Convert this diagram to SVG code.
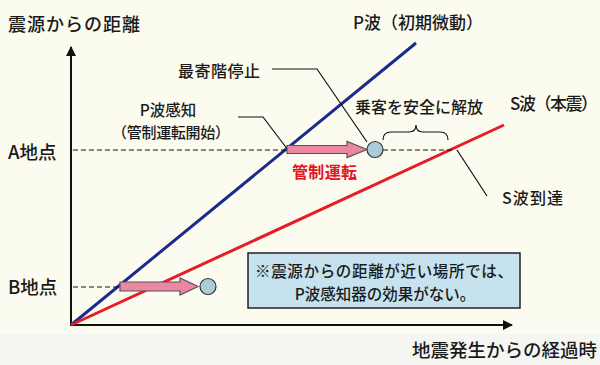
<svg xmlns="http://www.w3.org/2000/svg" width="600" height="365" viewBox="0 0 600 365">
<defs>
<style>
.t{font-family:"Noto Sans CJK JP","Noto Sans",sans-serif;fill:#1a1a1a;font-weight:500}
.ax{stroke:#111;stroke-width:2;fill:none}
.dash{stroke:#111;stroke-width:1.2;stroke-dasharray:5 3;fill:none}
.lead{stroke:#111;stroke-width:1.2;fill:none}
.arrow{fill:#ea87a2;stroke:#555;stroke-width:1.2}
.dot{fill:#a9cdd6;stroke:#333;stroke-width:1.2}
</style>
<marker id="ah" viewBox="0 0 10 10" refX="9" refY="5" markerWidth="5" markerHeight="5" orient="auto" markerUnits="strokeWidth">
<path d="M0,0 L10,5 L0,10 z" fill="#111"/>
</marker>
</defs>
<rect width="600" height="365" fill="#fcfbf0"/>
<rect y="334" width="600" height="31" fill="#f5f5f2"/>
<g id="connectors">
<path class="ax" d="M71,326 V47" marker-end="url(#ah)"/>
<path class="ax" d="M70,325 H512" marker-end="url(#ah)"/>
<path d="M71,325 L416,43" stroke="#1c2a8c" stroke-width="3" fill="none"/>
<path d="M71,325 L504,125" stroke="#e41e26" stroke-width="3" fill="none"/>
<path class="dash" d="M73,150 H287"/>
<path class="dash" d="M383,150 H452"/>
<path class="dash" d="M73,287 H120"/>
<path class="lead" d="M272,69 H317 L367,142"/>
<path class="lead" d="M238,117 H263 L288,150"/>
<path class="lead" d="M457,150 L487,196"/>
<path class="lead" d="M383,140 Q383,132 391,132 H409 Q416,132 416,125 Q416,132 423,132 H440 Q448,132 448,140"/>
</g>
<g id="y-label"><text class="t" x="8" y="31" font-size="18" textLength="132">震源からの距離</text></g>
<g id="x-label"><text class="t" x="412" y="357" font-size="18.5">地震発生からの経過時</text></g>
<g id="p-wave-label"><text class="t" x="353" y="29" font-size="17" textLength="130">P波（初期微動）</text></g>
<g id="s-wave-label"><text class="t" x="510" y="110" font-size="17" textLength="88">S波（本震）</text></g>
<g id="point-a"><text class="t" x="8" y="159" font-size="18.5">A地点</text></g>
<g id="point-b"><text class="t" x="8" y="294" font-size="18.5">B地点</text></g>
<g id="stop-label"><text class="t" x="178" y="77" font-size="16" textLength="82">最寄階停止</text></g>
<g id="p-detect-label">
<text class="t" x="168" y="116" font-size="15.5" text-anchor="middle">P波感知</text>
<text class="t" x="112" y="138" font-size="15" textLength="118">（管制運転開始）</text>
</g>
<g id="release-label"><text class="t" x="355" y="113" font-size="16" textLength="128">乗客を安全に解放</text></g>
<g id="s-arrive-label"><text class="t" x="502" y="204" font-size="16" textLength="61">S波到達</text></g>
<g id="control-run">
<polygon class="arrow" points="287,145.5 347,145.5 347,141.5 367,149.5 347,157.5 347,153.5 287,153.5"/>
<circle class="dot" cx="375" cy="149.5" r="8"/>
<text x="292" y="178" font-size="16" font-weight="bold" fill="#e4141e" font-family="Noto Sans CJK JP,sans-serif" textLength="65">管制運転</text>
</g>
<g id="b-arrow">
<polygon class="arrow" points="120,282 180,282 180,278 198,286.5 180,295 180,291 120,291"/>
<circle class="dot" cx="208" cy="286.5" r="8"/>
</g>
<g id="note">
<rect x="248" y="253" width="272" height="55" fill="#c6e2ee" stroke="#222" stroke-width="1.5"/>
<text class="t" x="255" y="277" font-size="15.5" textLength="258">※震源からの距離が近い場所では、</text>
<text class="t" x="385" y="300" font-size="15.5" text-anchor="middle">P波感知器の効果がない。</text>
</g>
</svg>
